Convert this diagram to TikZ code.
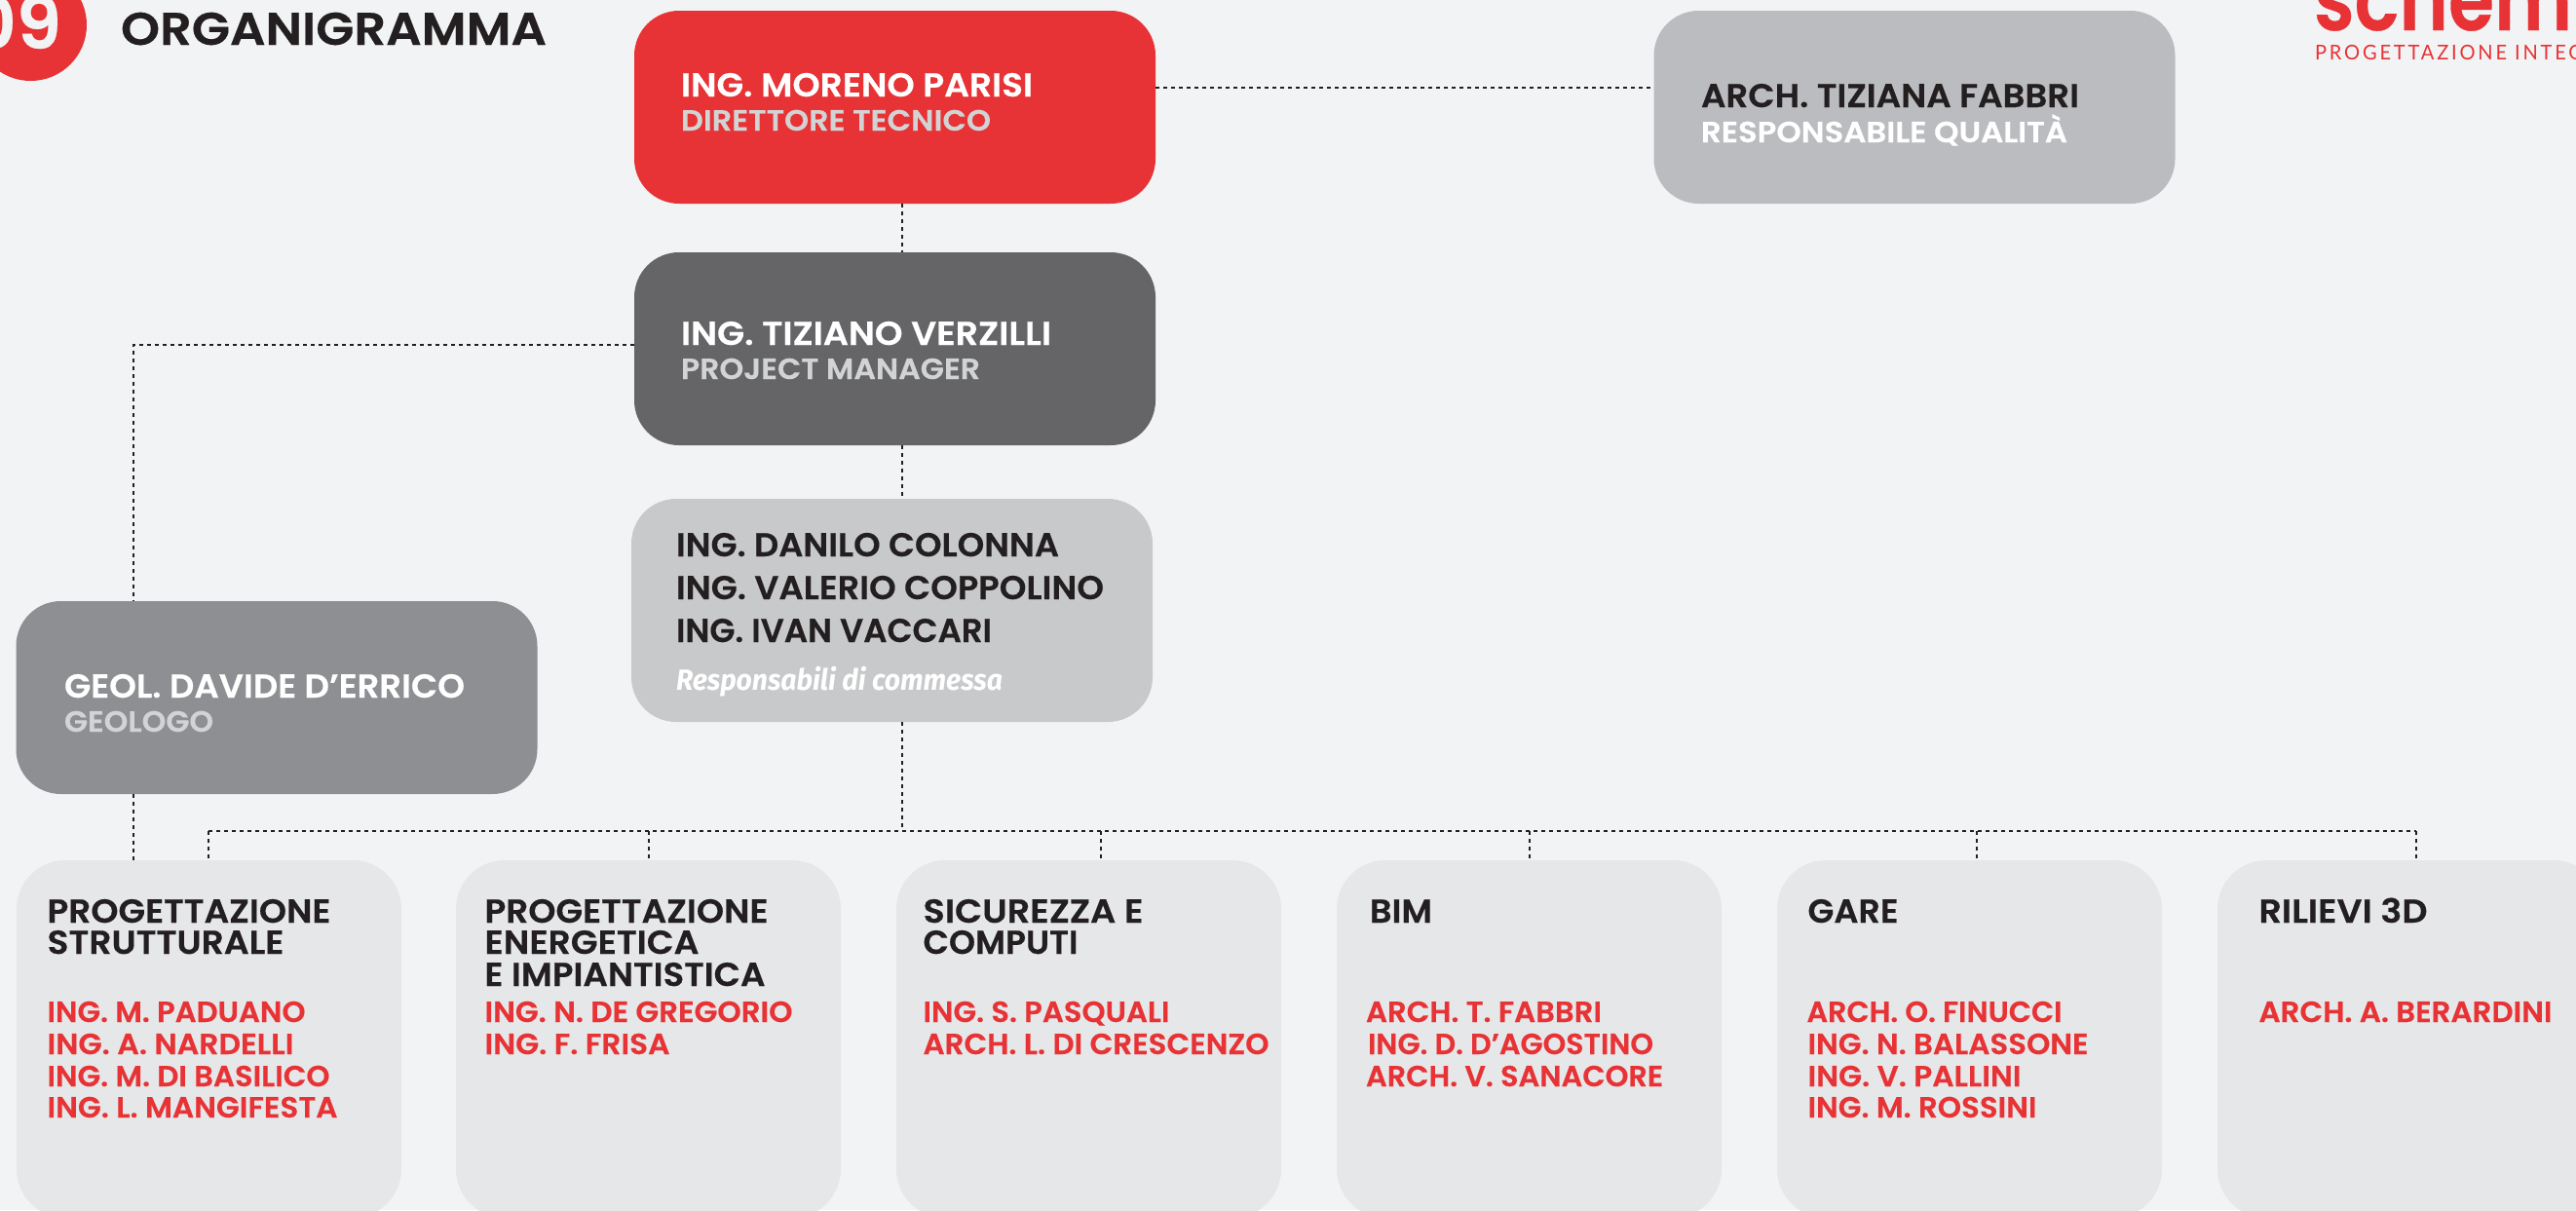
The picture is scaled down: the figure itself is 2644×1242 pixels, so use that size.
\documentclass[tikz,border=0pt]{standalone}
\usepackage{fontspec}
\usepackage{graphicx}
\setmainfont{Poppins}[BoldFont=Poppins SemiBold,BoldFeatures={FakeBold=0.35}]
\newfontfamily\commessafont{Fira Sans}
\newfontfamily\tagfont[LetterSpace=14]{Lato}
\definecolor{bgc}{HTML}{F2F3F5}
\definecolor{redc}{HTML}{E73335}
\definecolor{darkc}{HTML}{656567}
\definecolor{qualc}{HTML}{BBBCBF}
\definecolor{lightc}{HTML}{C8C9CB}
\definecolor{geoc}{HTML}{8E8F92}
\definecolor{secc}{HTML}{E6E7E9}
\definecolor{inkc}{HTML}{231F20}
\definecolor{subc}{HTML}{D1D3D4}
\tikzset{
  x=1pt,y=-1pt,
  orgbox/.style={rounded corners=46pt,inner sep=0pt,draw=none,minimum width=535pt,minimum height=198pt},
  secbox/.style={rounded corners=50pt,inner sep=0pt,draw=none,minimum width=395pt,minimum height=367pt,fill=secc},
  conn/.style={draw=inkc,line width=1.7pt,dash pattern=on 4pt off 4pt},
  lbltxt/.style={anchor=base west,inner sep=0pt,outer sep=0pt},
  pname/.style={lbltxt,text=white,font=\fontsize{34}{40}\selectfont\bfseries},
  pnameink/.style={lbltxt,text=inkc,font=\fontsize{34}{40}\selectfont\bfseries},
  prole/.style={lbltxt,text=subc,font=\fontsize{30}{36}\selectfont\bfseries},
  prolew/.style={lbltxt,text=white,font=\fontsize{30}{36}\selectfont\bfseries},
  sechead/.style={lbltxt,text=inkc,font=\fontsize{34}{40}\selectfont\bfseries},
  member/.style={lbltxt,text=redc,font=\fontsize{30}{36}\selectfont\bfseries},
}
\newcommand{\lbl}[6]{\node[#5] (#1) at (#2-2,#3) {\resizebox{\dimexpr#4pt+3pt\relax}{\height}{#6}};}
\begin{document}
\begin{tikzpicture}
\useasboundingbox (0,0) rectangle (2644,1242);
\clip (0,0) rectangle (2644,1242);
\fill[bgc] (0,0) rectangle (2644,1242);

% boxes
\node[orgbox,fill=redc] (dir) at (918.5,110) {};
\node[orgbox,fill=qualc] (qual) at (1965,110) {};
\node[orgbox,fill=darkc] (pm) at (918.5,358) {};
\node[orgbox,fill=lightc,minimum height=229pt] (resp) at (915.5,626.5) {};
\node[orgbox,fill=geoc] (geo) at (284,716) {};
\node[secbox] (s1) at (214.5,1066.5) {};
\node[secbox] (s2) at (665.5,1066.5) {};
\node[secbox] (s3) at (1117.5,1066.5) {};
\node[secbox] (s4) at (1569.5,1066.5) {};
\node[secbox] (s5) at (2021.5,1066.5) {};
\node[secbox] (s6) at (2473.5,1066.5) {};

% junctions
\coordinate (trunk) at (926,853);
\coordinate (geoline) at (137,354);
\coordinate (busL) at (214,853);
\coordinate (busR) at (2480,853);
\coordinate (d2) at (666,853);
\coordinate (d3) at (1130,853);
\coordinate (d4) at (1570,853);
\coordinate (d5) at (2029,853);
\coordinate (qline) at (1400,90);

% connectors
\draw[conn] (dir.east |- qline) -- (qual.west |- qline);
\draw[conn] (dir.south -| trunk) -- (pm.north -| trunk);
\draw[conn] (pm.south -| trunk) -- (resp.north -| trunk);
\draw[conn] (resp.south -| trunk) -- (trunk);
\draw[conn] (pm.west |- geoline) -- (geoline) -- (geo.north -| geoline);
\draw[conn] (geo.south -| geoline) -- (s1.north -| geoline);
\draw[conn] (busL) -- (busR);
\draw[conn] (busL) -- (s1.north -| busL);
\draw[conn] (d2) -- (s2.north -| d2);
\draw[conn] (d3) -- (s3.north -| d3);
\draw[conn] (d4) -- (s4.north -| d4);
\draw[conn] (d5) -- (s5.north -| d5);
\draw[conn] (busR) -- (s6.north -| busR);

% header
\node[circle,fill=redc,minimum size=115pt,inner sep=0pt] (badge) at (31.5,25.5) {};
\lbl{badgetxt}{-29}{50}{91}{lbltxt,text=bgc,font=\fontsize{74}{80}\selectfont\bfseries}{09}
\lbl{title}{126}{46}{434}{lbltxt,text=inkc,font=\fontsize{47}{52}\selectfont\bfseries}{ORGANIGRAMMA}

% logo
\lbl{logo}{2377}{31}{262}{lbltxt,text=redc,font=\fontsize{90}{96}\selectfont\bfseries}{schem}
\lbl{tag}{2378}{61}{272}{lbltxt,text=redc,font=\fontsize{21}{26}\selectfont\tagfont}{PROGETTAZIONE INTEG}

% top boxes
\lbl{n1}{701}{99}{358}{pname}{ING. MORENO PARISI}
\lbl{r1}{701}{134}{315}{prole}{DIRETTORE TECNICO}
\lbl{n2}{1748}{110}{385}{pnameink}{ARCH. TIZIANA FABBRI}
\lbl{r2}{1748}{146}{373}{prolew}{RESPONSABILE QUALITÀ}
\lbl{n3}{701}{354}{377}{pname}{ING. TIZIANO VERZILLI}
\lbl{r3}{701}{389}{304}{prole}{PROJECT MANAGER}
\lbl{n4}{696}{571}{390}{pnameink}{ING. DANILO COLONNA}
\lbl{n5}{696}{615}{436}{pnameink}{ING. VALERIO COPPOLINO}
\lbl{n6}{696}{659}{321}{pnameink}{ING. IVAN VACCARI}
\lbl{r6}{696}{708}{332}{lbltxt,text=white,font=\fontsize{30}{34}\selectfont\commessafont\bfseries\itshape}{Responsabili di commessa}
\lbl{n7}{68}{716}{408}{pname}{GEOL. DAVIDE D’ERRICO}
\lbl{r7}{68}{751}{150}{prole}{GEOLOGO}

% column 1
\lbl{h11}{50.5}{947}{288}{sechead}{PROGETTAZIONE}
\lbl{h12}{50.5}{979}{240}{sechead}{STRUTTURALE}
\lbl{m11}{50.5}{1049}{262}{member}{ING. M. PADUANO}
\lbl{m12}{50.5}{1082}{250}{member}{ING. A. NARDELLI}
\lbl{m13}{50.5}{1115}{287}{member}{ING. M. DI BASILICO}
\lbl{m14}{50.5}{1147}{295}{member}{ING. L. MANGIFESTA}
% column 2
\lbl{h21}{499.5}{947}{288}{sechead}{PROGETTAZIONE}
\lbl{h22}{499.5}{979}{217}{sechead}{ENERGETICA}
\lbl{h23}{499.5}{1012}{285}{sechead}{E IMPIANTISTICA}
\lbl{m21}{499.5}{1049}{313}{member}{ING. N. DE GREGORIO}
\lbl{m22}{499.5}{1082}{187}{member}{ING. F. FRISA}
% column 3
\lbl{h31}{949.5}{947}{223}{sechead}{SICUREZZA E}
\lbl{h32}{949.5}{979}{156}{sechead}{COMPUTI}
\lbl{m31}{949.5}{1049}{250}{member}{ING. S. PASQUALI}
\lbl{m32}{949.5}{1082}{352}{member}{ARCH. L. DI CRESCENZO}
% column 4
\lbl{h41}{1408}{947}{61}{sechead}{BIM}
\lbl{m41}{1404}{1049}{239}{member}{ARCH. T. FABBRI}
\lbl{m42}{1406}{1082}{290}{member}{ING. D. D’AGOSTINO}
\lbl{m43}{1404}{1115}{302}{member}{ARCH. V. SANACORE}
% column 5
\lbl{h51}{1857.5}{947}{90}{sechead}{GARE}
\lbl{m51}{1856.5}{1049}{259}{member}{ARCH. O. FINUCCI}
\lbl{m52}{1857.5}{1082}{285}{member}{ING. N. BALASSONE}
\lbl{m53}{1857.5}{1115}{216}{member}{ING. V. PALLINI}
\lbl{m54}{1857.5}{1147}{232}{member}{ING. M. ROSSINI}
% column 6
\lbl{h61}{2320.5}{947}{170}{sechead}{RILIEVI 3D}
\lbl{m61}{2320.5}{1049}{298}{member}{ARCH. A. BERARDINI}
\end{tikzpicture}
\end{document}
